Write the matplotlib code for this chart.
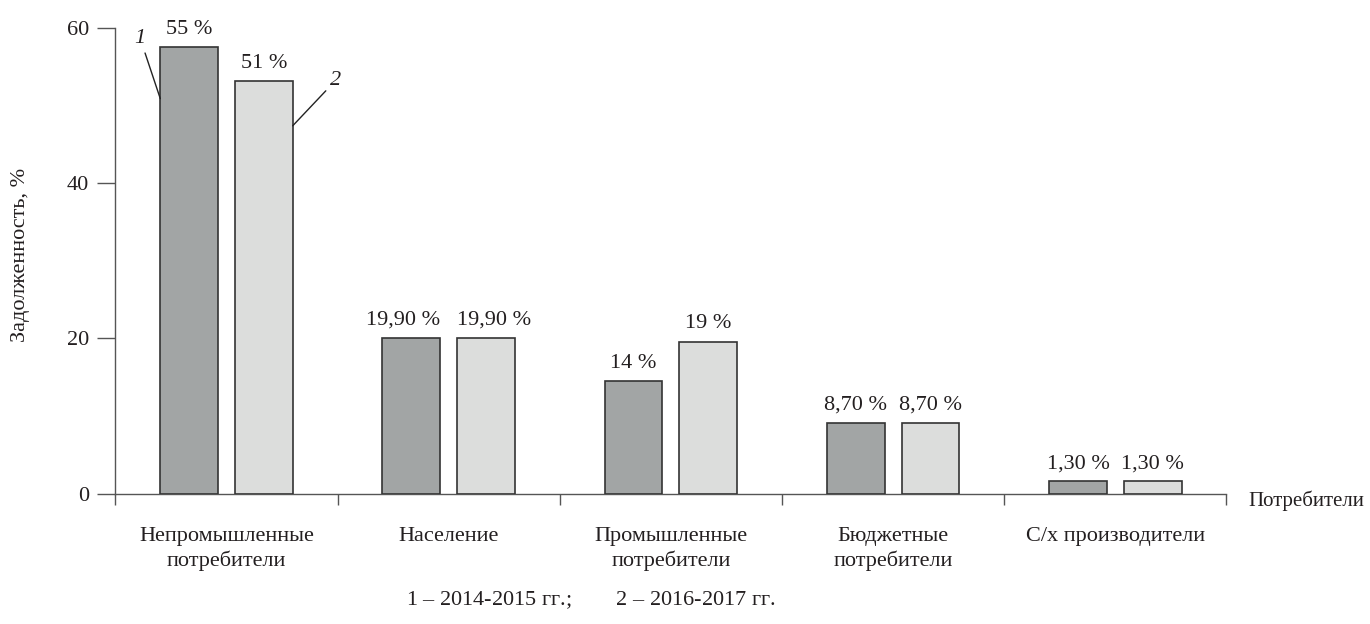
import matplotlib
matplotlib.use("Agg")
import matplotlib.pyplot as plt
import numpy as np

plt.rcParams['font.family'] = ['Liberation Serif', 'DejaVu Serif']
plt.rcParams['mathtext.fontset'] = 'custom'
plt.rcParams['mathtext.rm'] = 'Liberation Serif'
plt.rcParams['mathtext.it'] = 'Liberation Serif:italic'

categories = ["Непромышленные\nпотребители", "Население", "Промышленные\nпотребители",
              "Бюджетные\nпотребители", "С/х производители"]
# bar heights as drawn in the picture
vals_1 = [57.5, 20.1, 14.5, 9.1, 1.6]
vals_2 = [53.2, 20.1, 19.6, 9.1, 1.6]
# labels as printed above the bars
labels_1 = ["55 %", "19,90 %", "14 %", "8,70 %", "1,30 %"]
labels_2 = ["51 %", "19,90 %", "19 %", "8,70 %", "1,30 %"]

txt = '#231f20'
axc = '#555555'
fs = 16

fig = plt.figure(figsize=(13.7, 6.24), dpi=100)
ax = fig.add_axes([115.4/1370, 1-493.7/624, 1111/1370, 465.7/624])

x = np.arange(len(categories))
w = 0.26
off = 0.168
b1 = ax.bar(x - off, vals_1, w, color='#a2a5a5', edgecolor='#333333', linewidth=1.2, zorder=3)
b2 = ax.bar(x + off, vals_2, w, color='#dcdddc', edgecolor='#333333', linewidth=1.2, zorder=3)

for side, bars, labs in ((-1, b1, labels_1), (1, b2, labels_2)):
    for r, lab in zip(bars, labs):
        cx = r.get_x() + r.get_width()/2
        ha = 'center'
        if len(lab) > 6:
            # long labels are pushed apart so they do not touch
            cx = r.get_x() + (r.get_width() if side < 0 else 0)
            ha = 'right' if side < 0 else 'left'
        ax.annotate(lab, (cx, r.get_height()),
                    xytext=(0, 9.5), textcoords='offset points', ha=ha, va='baseline',
                    fontsize=fs, color=txt, annotation_clip=False)

ax.set_xlim(-0.5, 4.5)
ax.set_ylim(0, 60)
ax.set_yticks([0, 20, 40, 60])
ax.tick_params(axis='y', direction='out', length=13, width=1, color=axc,
               pad=6, labelsize=fs, labelcolor=txt)

ax.set_xticks(x)
ax.set_xticklabels(categories, fontsize=fs, color=txt, linespacing=1.3)
ax.tick_params(axis='x', which='major', length=0, pad=24)
ax.set_xticks(np.arange(-0.5, 5, 1), minor=True)
ax.tick_params(axis='x', which='minor', direction='out', length=8, width=1, color=axc)

for s in ('top', 'right'):
    ax.spines[s].set_visible(False)
for s in ('left', 'bottom'):
    ax.spines[s].set_color(axc)
    ax.spines[s].set_linewidth(1)

ax.set_ylabel("Задолженность, %", fontsize=fs, color=txt)
ax.yaxis.set_label_coords(-0.0769, 0.5126)

ax.text(1.02, -0.016, "Потребители", transform=ax.transAxes, ha='left', va='center',
        fontsize=15, color=txt)

# series markers
ax.annotate("1", xy=(-0.298, 50.9), xytext=(-0.389, 58.7), fontsize=fs, style='italic',
            color=txt, ha='center', va='center', annotation_clip=False,
            arrowprops=dict(arrowstyle='-', color='#222222', lw=1, shrinkA=2, shrinkB=0))
ax.annotate("2", xy=(0.298, 47.4), xytext=(0.493, 53.3), fontsize=fs, style='italic',
            color=txt, ha='center', va='center', annotation_clip=False,
            arrowprops=dict(arrowstyle='-', color='#222222', lw=1, shrinkA=2, shrinkB=0))

fig.text(406/1370, 1-600/624,
         r"$\mathit{1}$ – 2014-2015 гг.;" + " " * 8 + r"$\mathit{2}$ – 2016-2017 гг.",
         ha='left', va='center', fontsize=fs, color=txt)

fig.savefig("out.png", dpi=100)
